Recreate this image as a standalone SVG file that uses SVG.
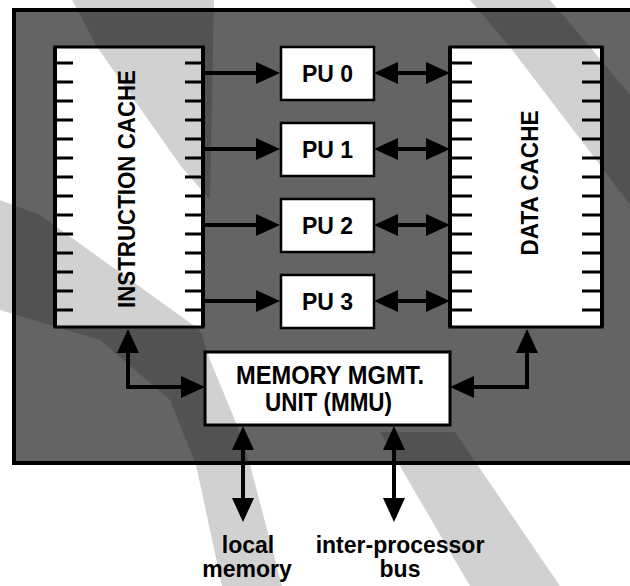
<svg xmlns="http://www.w3.org/2000/svg" width="630" height="586" viewBox="0 0 630 586">
  <defs>
    <marker id="ah" viewBox="0 0 24 22" refX="19" refY="11" markerWidth="24" markerHeight="22" markerUnits="userSpaceOnUse" orient="auto-start-reverse">
      <path d="M0,0 L24,11 L0,22 z" fill="#000"/>
    </marker>
    <style>
      .box { fill: #fff; stroke: #000; stroke-width: 3; }
      .pu { fill: #fff; stroke: #000; stroke-width: 2.5; }
      .tick { stroke: #000; stroke-width: 3; }
      .edge { stroke: #000; stroke-width: 4; fill: none; }
      .band { fill: #000; fill-opacity: 0.18; }
      .lbl { font-family: "Liberation Sans", Arial, Helvetica, sans-serif; font-weight: bold; fill: #000; text-anchor: middle; }
      .ax { stroke: #000; stroke-width: 4; fill: none; }
      .one { marker-end: url(#ah); }
      .two { marker-start: url(#ah); marker-end: url(#ah); }
    </style>
  </defs>

  <rect width="630" height="586" fill="#fff"/>

  <!-- chip frame -->
  <g id="frame">
    <rect x="14" y="10" width="640" height="453" fill="#646464" stroke="#000" stroke-width="4"/>
  </g>

  <!-- white boxes -->
  <g id="instruction-cache">
    <rect class="box" x="55" y="47" width="148" height="280"/>
  </g>
  <g id="data-cache">
    <rect class="box" x="450" y="47" width="152" height="280"/>
  </g>
  <g id="pu0"><rect class="pu" x="281" y="47" width="93" height="53"/></g>
  <g id="pu1"><rect class="pu" x="281" y="123" width="93" height="53"/></g>
  <g id="pu2"><rect class="pu" x="281" y="199" width="93" height="53"/></g>
  <g id="pu3"><rect class="pu" x="281" y="275" width="93" height="53"/></g>
  <g id="mmu"><rect class="box" x="205" y="352" width="245" height="73" stroke-width="3.5"/></g>

  <!-- scanned shading bands -->
  <g id="shading">
    <path class="band" d="M72,0 L97,47 L180,165 L210,200 L214,0 z"/>
    <path class="band" d="M380,432 L455,432 L560,586 L470,586 z"/>
    <path class="band" d="M470,0 L510,47 L600,165 L630,205 L630,95 L590,47 L550,0 z"/>
    <path class="band" d="M0,200 L40,215 L200,330 L210,360 L237,425 L250,465 L282,586 L222,586 L196,465 L170,400 L100,340 L0,310 z"/>
  </g>

  <!-- cache pins -->
  <g id="pins">
    <path class="tick" d="M55,63H73M55,82H73M55,101H73M55,120H73M55,139H73M55,158H73M55,177H73M55,196H73M55,215H73M55,234H73M55,253H73M55,272H73M55,291H73M55,310H73"/>
    <path class="tick" d="M185,63H203M185,82H203M185,101H203M185,120H203M185,139H203M185,158H203M185,177H203M185,196H203M185,215H203M185,234H203M185,253H203M185,272H203M185,291H203M185,310H203"/>
    <path class="tick" d="M450,63H472M450,82H472M450,101H472M450,120H472M450,139H472M450,158H472M450,177H472M450,196H472M450,215H472M450,234H472M450,253H472M450,272H472M450,291H472M450,310H472"/>
    <path class="tick" d="M582,63H602M582,82H602M582,101H602M582,120H602M582,139H602M582,158H602M582,177H602M582,196H602M582,215H602M582,234H602M582,253H602M582,272H602M582,291H602M582,310H602"/>
    <path class="edge" d="M55,47V327M203,47V327M450,47V327M602,47V327"/>
  </g>

  <!-- labels -->
  <g id="labels">
    <text class="lbl" transform="rotate(-90)" x="-189" y="135" font-size="23" textLength="238" lengthAdjust="spacingAndGlyphs">INSTRUCTION CACHE</text>
    <text class="lbl" transform="rotate(-90)" x="-183" y="538" font-size="23" textLength="145" lengthAdjust="spacingAndGlyphs">DATA CACHE</text>
    <text class="lbl" x="327.5" y="82" font-size="23">PU 0</text>
    <text class="lbl" x="327.5" y="158" font-size="23">PU 1</text>
    <text class="lbl" x="327.5" y="234" font-size="23">PU 2</text>
    <text class="lbl" x="327.5" y="310" font-size="23">PU 3</text>
    <text class="lbl" x="330" y="384" font-size="25" textLength="188" lengthAdjust="spacingAndGlyphs">MEMORY MGMT.</text>
    <text class="lbl" x="328.5" y="411" font-size="25" textLength="127" lengthAdjust="spacingAndGlyphs">UNIT (MMU)</text>
  </g>
  <g id="label-local-memory">
    <text class="lbl" x="248" y="553" font-size="23">local</text>
    <text class="lbl" x="247" y="577" font-size="23">memory</text>
  </g>
  <g id="label-bus">
    <text class="lbl" x="400" y="553" font-size="23">inter-processor</text>
    <text class="lbl" x="400" y="577" font-size="23">bus</text>
  </g>

  <!-- connectors -->
  <g id="connectors">
    <line class="ax one" x1="203" y1="73" x2="275" y2="73"/>
    <line class="ax one" x1="203" y1="149" x2="275" y2="149"/>
    <line class="ax one" x1="203" y1="225" x2="275" y2="225"/>
    <line class="ax one" x1="203" y1="301" x2="275" y2="301"/>
    <line class="ax two" x1="379" y1="73" x2="445" y2="73"/>
    <line class="ax two" x1="379" y1="149" x2="445" y2="149"/>
    <line class="ax two" x1="379" y1="225" x2="445" y2="225"/>
    <line class="ax two" x1="379" y1="301" x2="445" y2="301"/>
    <path class="ax two" d="M128,334 V387 H200"/>
    <path class="ax two" d="M527,334 V387 H455"/>
    <line class="ax two" x1="243" y1="431" x2="243" y2="517"/>
    <line class="ax two" x1="394" y1="431" x2="394" y2="517"/>
  </g>
</svg>
